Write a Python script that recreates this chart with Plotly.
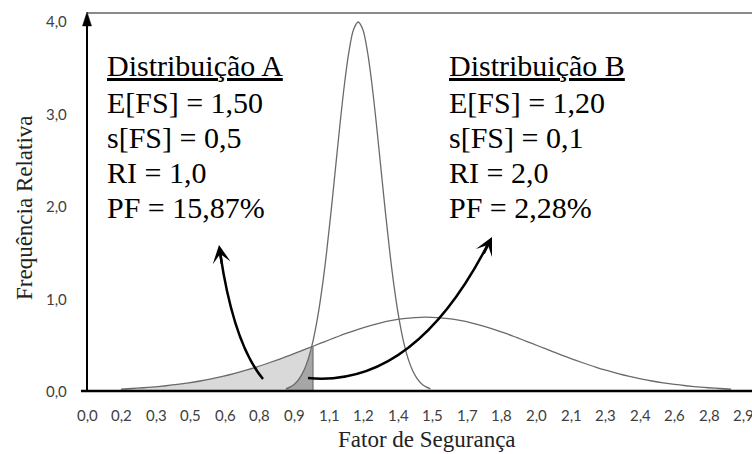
import plotly.graph_objects as go
import numpy as np

# ---------------- data ----------------
A_X = [0.15, 0.20, 0.25, 0.30, 0.35, 0.40, 0.45, 0.50, 0.55, 0.60, 0.65, 0.70, 0.75, 0.80,
       0.85, 0.90, 0.95, 1.00, 1.05, 1.10, 1.15, 1.20, 1.25, 1.30, 1.35, 1.40, 1.45, 1.50,
       1.55, 1.60, 1.65, 1.70, 1.75, 1.80, 1.85, 1.90, 1.95, 2.00, 2.05, 2.10, 2.15, 2.20,
       2.25, 2.30, 2.35, 2.40, 2.45, 2.50, 2.55, 2.60, 2.65, 2.70, 2.75, 2.80, 2.85]
A_Y = [0.021, 0.027, 0.035, 0.045, 0.057, 0.071, 0.088, 0.108, 0.131, 0.158, 0.188, 0.222,
       0.259, 0.300, 0.343, 0.388, 0.436, 0.484, 0.532, 0.579, 0.625, 0.667, 0.704, 0.737,
       0.763, 0.782, 0.794, 0.798, 0.794, 0.782, 0.763, 0.737, 0.704, 0.667, 0.625, 0.579,
       0.532, 0.484, 0.436, 0.388, 0.343, 0.300, 0.259, 0.222, 0.188, 0.158, 0.131, 0.108,
       0.088, 0.071, 0.057, 0.045, 0.035, 0.027, 0.021]

B_X = [0.88, 0.90, 0.92, 0.94, 0.96, 0.98, 1.00, 1.02, 1.04, 1.06, 1.08, 1.10, 1.12, 1.14,
       1.16, 1.18, 1.20, 1.22, 1.24, 1.26, 1.28, 1.30, 1.32, 1.34, 1.36, 1.38, 1.40, 1.42,
       1.44, 1.46, 1.48, 1.50, 1.52]
B_Y = [0.024, 0.044, 0.079, 0.136, 0.224, 0.355, 0.540, 0.790, 1.109, 1.497, 1.942, 2.420,
       2.897, 3.332, 3.682, 3.910, 3.989, 3.910, 3.682, 3.332, 2.897, 2.420, 1.942, 1.497,
       1.109, 0.790, 0.540, 0.355, 0.224, 0.136, 0.079, 0.044, 0.024]

FAIL_LIMIT = 1.0  # FS = 1,0

X_TICK_VALS = [0.0, 0.153, 0.306, 0.459, 0.612, 0.765, 0.918, 1.071, 1.224, 1.377, 1.53,
               1.683, 1.836, 1.989, 2.142, 2.295, 2.448, 2.601, 2.754, 2.907]
X_TICK_LABELS = ["0,0", "0,2", "0,3", "0,5", "0,6", "0,8", "0,9", "1,1", "1,2", "1,4",
                 "1,5", "1,7", "1,8", "2,0", "2,1", "2,3", "2,4", "2,6", "2,8", "2,9"]
Y_TICK_VALS = [0, 1, 2, 3, 4]
Y_TICK_LABELS = ["0,0", "1,0", "2,0", "3,0", "4,0"]

TEXT_A = ["Distribuição A", "E[FS] = 1,50", "s[FS] = 0,5", "RI = 1,0", "PF = 15,87%"]
TEXT_B = ["Distribuição B", "E[FS] = 1,20", "s[FS] = 0,1", "RI = 2,0", "PF = 2,28%"]
X_TITLE = "Fator de Segurança"
Y_TITLE = "Frequência Relativa"

# ---------------- layout geometry ----------------
W, H = 752, 454
ML, MR, MT, MB = 75, 0, 8, 54
X0_PX, Y0_PX = 87, 391          # pixel of data origin
PX_PER_X, PX_PER_Y = 226.0, 92.5
XR = [(ML - X0_PX) / PX_PER_X, (W - MR - X0_PX) / PX_PER_X]
YR = [(Y0_PX - (H - MB)) / PX_PER_Y, (Y0_PX - MT) / PX_PER_Y]


def dx(px):
    return (px - X0_PX) / PX_PER_X


def dy(py):
    return (Y0_PX - py) / PX_PER_Y


def paper_x(px):
    return (px - ML) / (W - ML - MR)


def paper_y(py):
    return ((H - MB) - py) / (H - MT - MB)


LINE_COLOR = "#6a6a6a"
SERIF = "Liberation Serif, Times New Roman, Times, serif"
SANS = "Lato, Noto Sans, sans-serif"
TICK_FONT = dict(family=SANS, size=15, color="#404040")

fig = go.Figure()

# light fill (distribution A below failure limit)
ax_ = np.array(A_X)
ay_ = np.array(A_Y)
mA = ax_ <= FAIL_LIMIT + 1e-9
fig.add_trace(go.Scatter(x=ax_[mA], y=ay_[mA], mode="lines", fill="tozeroy",
                         fillcolor="#d9d9d9", line=dict(width=0, shape="spline"),
                         hoverinfo="skip", showlegend=False))

# dark fill (distribution B below failure limit, under A)
bx_ = np.array(B_X)
by_ = np.array(B_Y)
mB = bx_ <= FAIL_LIMIT + 1e-9
dark_y = np.minimum(by_[mB], np.interp(bx_[mB], ax_, ay_))
fig.add_trace(go.Scatter(x=bx_[mB], y=dark_y, mode="lines", fill="tozeroy",
                         fillcolor="#a6a6a6", line=dict(width=0, shape="spline"),
                         hoverinfo="skip", showlegend=False))
fig.add_trace(go.Scatter(x=[FAIL_LIMIT, FAIL_LIMIT], y=[0, dark_y[-1]], mode="lines",
                         line=dict(color="#707070", width=1.2),
                         hoverinfo="skip", showlegend=False))

# curves
fig.add_trace(go.Scatter(x=A_X, y=A_Y, mode="lines",
                         line=dict(color=LINE_COLOR, width=1.3, shape="spline"),
                         hoverinfo="skip", showlegend=False))
fig.add_trace(go.Scatter(x=B_X, y=B_Y, mode="lines",
                         line=dict(color=LINE_COLOR, width=1.3, shape="spline"),
                         hoverinfo="skip", showlegend=False))

shapes = []
# top gray border line
shapes.append(dict(type="line", xref="x", yref="y", x0=0, x1=XR[1], y0=dy(13), y1=dy(13),
                   line=dict(color="#8a8a8a", width=2)))
# x axis line
shapes.append(dict(type="line", xref="x", yref="y", x0=dx(81), x1=XR[1], y0=0, y1=0,
                   line=dict(color="black", width=2.5)))
# y axis line + arrow head
shapes.append(dict(type="line", xref="x", yref="y", x0=0, x1=0, y0=0, y1=dy(24),
                   line=dict(color="black", width=2)))
shapes.append(dict(type="path", xref="x", yref="y",
                   path=f"M {dx(82.5)},{dy(26)} L 0,{dy(12)} L {dx(91.5)},{dy(26)} Z",
                   fillcolor="black", line=dict(color="black", width=0.5)))


def qpath(p0, c, p2):
    return (f"M {dx(p0[0])},{dy(p0[1])} Q {dx(c[0])},{dy(c[1])} "
            f"{dx(p2[0])},{dy(p2[1])}")


# curved arrows
shapes.append(dict(type="path", xref="x", yref="y",
                   path=qpath((263, 379), (233.5, 343.6), (220, 252)),
                   line=dict(color="black", width=2.5)))
shapes.append(dict(type="path", xref="x", yref="y",
                   path=qpath((308, 378), (414, 388), (488, 244)),
                   line=dict(color="black", width=2.5)))

annotations = []
# arrow heads
annotations.append(dict(x=dx(219), y=dy(245), xref="x", yref="y", ax=3, ay=20, text="",
                        showarrow=True, arrowhead=3, arrowsize=1.2, arrowwidth=2.5,
                        arrowcolor="black", standoff=0))
annotations.append(dict(x=dx(492), y=dy(237), xref="x", yref="y", ax=-9, ay=18, text="",
                        showarrow=True, arrowhead=3, arrowsize=1.2, arrowwidth=2.5,
                        arrowcolor="black", standoff=0))

# tick labels
for v, t in zip(X_TICK_VALS, X_TICK_LABELS):
    annotations.append(dict(x=v, y=paper_y(415), xref="x", yref="paper", text=t,
                            showarrow=False, xanchor="center", yanchor="middle",
                            font=TICK_FONT))
for v, t in zip(Y_TICK_VALS, Y_TICK_LABELS):
    annotations.append(dict(x=paper_x(69), y=v, xref="paper", yref="y", text=t,
                            showarrow=False, xanchor="right", yanchor="middle",
                            font=TICK_FONT))

LINE_CENTERS = [65, 102, 137, 172, 207]
for block, left in ((TEXT_A, 105), (TEXT_B, 447)):
    for i, (txt, cy) in enumerate(zip(block, LINE_CENTERS)):
        f = dict(family=SERIF, size=30, color="black")
        if i == 0:
            f["lineposition"] = "under"
        annotations.append(dict(x=paper_x(left), y=paper_y(cy), xref="paper", yref="paper",
                                text=txt, showarrow=False, xanchor="left", yanchor="middle",
                                font=f))

annotations.append(dict(x=paper_x(427), y=paper_y(440), xref="paper", yref="paper",
                        text=X_TITLE, showarrow=False, xanchor="center", yanchor="middle",
                        font=dict(family=SERIF, size=23, color="#222222")))
annotations.append(dict(x=paper_x(24.5), y=paper_y(207.5), xref="paper", yref="paper",
                        text=Y_TITLE, showarrow=False, xanchor="center", yanchor="middle",
                        textangle=-90,
                        font=dict(family=SERIF, size=23, color="#222222")))

fig.update_layout(
    width=W, height=H,
    margin=dict(l=ML, r=MR, t=MT, b=MB),
    paper_bgcolor="white", plot_bgcolor="white",
    shapes=shapes, annotations=annotations,
    xaxis=dict(range=XR, showgrid=False, zeroline=False, showline=False,
               showticklabels=False, ticks=""),
    yaxis=dict(range=YR, showgrid=False, zeroline=False, showline=False,
               showticklabels=False, ticks=""),
)

fig.write_html("out.html")
